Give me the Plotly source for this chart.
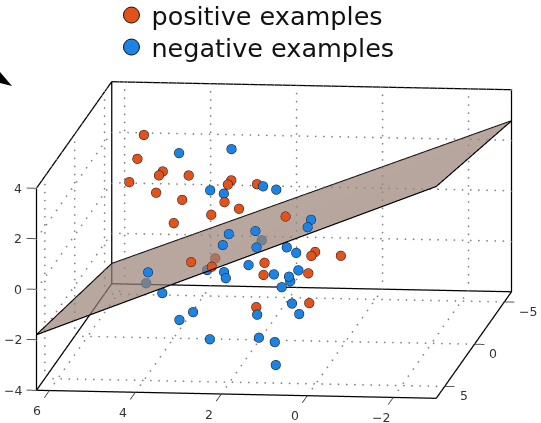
import plotly.graph_objects as go

# positive examples
pos_x = [5.11, 5.40, 4.67, 4.48, 3.65, 5.31, 4.27, 4.08, 2.80, 2.60, 2.34, 2.54, 2.48, 2.71, 3.72, 2.90, 2.28, 1.47, 1.77, 1.94, 3.31, 0.98, 0.71, 0.52, 0.25, 0.73, 0.43]
pos_y = [-3, -4, -3, -1, 0, -2, 1, -2, -1, 1, -2, 2, 0, 3, 2, 5, 6, 3, 1, 1, -2, 3, 0, 2, -1, 1, 3]
pos_z = [3.01, 1.72, 1.58, 2.10, 2.46, 1.47, 2.09, 0.81, 1.96, 2.47, 1.49, 2.11, 1.18, 1.94, 1.24, 0.73, 0.90, 0.08, -1.08, -2.36, -1.48, 1.93, -0.47, 0.05, -0.94, -0.98, -1.48]

# negative examples
neg_x = [4.43, 3.35, 3.29, 3.25, 2.06, 2.17, 2.44, 1.82, 2.44, 1.24, 2.23, 1.98, 4.04, 4.92, 3.39, 3.50, 2.55, 2.37, 3.41, 3.45, 1.78, 2.88, 1.60, 0.11, 0.05, 1.23, 1.15, 1.39, 1.10, 1.04, 1.15, 1.07, 0.97, 1.08, 1.37, 1.07]
neg_y = [-4, -5, -1, -3, -1, -4, 2, 2, 3, 6, -2, 2, 4, -2, 6.3, -2, 2, 3, 1, 3, 2, 2, 3, 5, 6, 1, 0, 2, 0, 2, 1, 3, 2, 0, 2, 4]
neg_z = [1.98, 1.84, 1.55, 0.75, 1.75, 0.61, 0.85, 0.99, 0.75, 1.70, -0.73, -0.36, -0.05, -2.52, -0.08, -1.95, -0.66, -0.56, -2.61, -2.25, -2.32, -3.33, -2.89, 2.50, 2.54, 0.03, -0.52, -0.71, -1.21, -0.79, -1.31, -0.87, -1.85, -2.94, -3.39, -3.62]

# separating plane corners
plane_x = [6.3, 6.3, -3.0, -3.0]
plane_y = [6.4, -6.2, -6.2, 6.4]
plane_z = [-1.8, -3.2, 2.77, 4.39]

# visible box, and axis ranges with room for the tick marks and plane corner outside it
box_x = [-3.0, 6.3]
box_y = [-6.2, 6.4]
box_z = [-4, 4]
x_range = [-3.3, 6.6]
y_range = [-7.2, 7.4]
z_range = [-4.45, 4.45]
x_ticks = [-2, 0, 2, 4, 6]
y_ticks = [-5, 0, 5]
z_ticks = [-4, -2, 0, 2, 4]

ORANGE = "#E4521C"
BLUE = "#1C82E4"

fig = go.Figure()
x0, x1 = box_x; y0, y1 = box_y; z0, z1 = box_z

def label(t):
    return str(t).replace("-", "\u2212")

# dotted grid on the floor and the two back walls
dx, dy, dz = [], [], []
def dots(a, b):
    # screen length of a segment decides how many dots it carries
    length = ((abs(a[0]-b[0])*43)**2 + (abs(a[1]-b[1])*10)**2 + (abs(a[2]-b[2])*25)**2)**0.5
    n = max(int(length / 8), 1)
    for k in range(n + 1):
        f = k / n
        dx.append(a[0] + (b[0]-a[0])*f); dy.append(a[1] + (b[1]-a[1])*f); dz.append(a[2] + (b[2]-a[2])*f)
for t in x_ticks:
    dots((t, y0, z0), (t, y1, z0))
    dots((t, y0, z0), (t, y0, z1))
for t in y_ticks:
    dots((x0, t, z0), (x1, t, z0))
    dots((x1, t, z0), (x1, t, z1))
for t in z_ticks[1:]:
    dots((x0, y0, t), (x1, y0, t))
    dots((x1, y0, t), (x1, y1, t))
fig.add_trace(go.Scatter3d(x=dx, y=dy, z=dz, mode="markers", showlegend=False, hoverinfo="skip",
                           marker=dict(color="#808080", size=1.0, line=dict(width=0))))

gx, gy, gz = [], [], []
def seg(a, b):
    gx.extend([a[0], b[0], None]); gy.extend([a[1], b[1], None]); gz.extend([a[2], b[2], None])

# box edges
seg((x1, y1, z0), (x0, y1, z0))
seg((x0, y1, z0), (x0, y0, z0))
seg((x0, y0, z0), (x1, y0, z0))
seg((x1, y0, z0), (x1, y1, z0))
seg((x1, y1, z0), (x1, y1, z1))
seg((x1, y1, z1), (x1, y0, z1))
seg((x1, y0, z1), (x0, y0, z1))
seg((x1, y0, z0), (x1, y0, z1))
seg((x0, y0, z0), (x0, y0, z1))
fig.add_trace(go.Scatter3d(x=gx, y=gy, z=gz, mode="lines", showlegend=False, hoverinfo="skip",
                           line=dict(color="black", width=2.5)))

# tick marks and their labels
gx, gy, gz = [], [], []
notes = []
font = dict(family="DejaVu Sans", size=12.5, color="#333333")
for t in x_ticks:
    seg((t, y1, z0), (t, y1 + 0.85, z0))
    notes.append(dict(x=t, y=y1 + 0.85, z=z0, text=label(t), showarrow=False, xshift=-7, yshift=-13, font=font))
for t in y_ticks:
    seg((x0, t, z0), (x0 - 0.23, t, z0))
    notes.append(dict(x=x0 - 0.23, y=t, z=z0, text=label(t), showarrow=False, xanchor="left", xshift=3, yshift=-9, font=font))
for t in z_ticks:
    seg((x1, y1, t), (x1 + 0.23, y1, t))
    notes.append(dict(x=x1 + 0.23, y=y1, z=t, text=label(t), showarrow=False, xanchor="right", xshift=-3, font=font))
fig.add_trace(go.Scatter3d(x=gx, y=gy, z=gz, mode="lines", showlegend=False, hoverinfo="skip",
                           line=dict(color="#222222", width=1.5)))

mk = lambda c, s, w: dict(color=c, size=s, opacity=1, line=dict(color="#111111", width=w))
fig.add_trace(go.Scatter3d(x=pos_x, y=pos_y, z=pos_z, mode="markers", marker=mk(ORANGE, 5.6, 1.5), showlegend=False))
fig.add_trace(go.Scatter3d(x=neg_x, y=neg_y, z=neg_z, mode="markers", marker=mk(BLUE, 5.6, 1.5), showlegend=False))

# legend entries
fig.add_trace(go.Scatter3d(x=[None], y=[None], z=[None], mode="markers", marker=mk(ORANGE, 17, 1), name="positive examples"))
fig.add_trace(go.Scatter3d(x=[None], y=[None], z=[None], mode="markers", marker=mk(BLUE, 17, 1), name="negative examples", legend="legend2"))

# plane face, pulled in a hair so that its outline does not fight with it
cx, cy, cz = [sum(v) / 4 for v in (plane_x, plane_y, plane_z)]
inset = lambda vals, c: [c + (v - c) * 0.996 for v in vals]
fig.add_trace(go.Mesh3d(x=inset(plane_x, cx), y=inset(plane_y, cy), z=inset(plane_z, cz),
                        i=[0, 0], j=[1, 2], k=[2, 3],
                        color="rgb(153,128,116)", opacity=0.7, flatshading=True, showscale=False,
                        hoverinfo="skip",
                        lighting=dict(ambient=1, diffuse=0, specular=0, roughness=1, fresnel=0)))
fig.add_trace(go.Scatter3d(x=plane_x + plane_x[:1], y=plane_y + plane_y[:1], z=plane_z + plane_z[:1],
                           mode="lines", showlegend=False, hoverinfo="skip",
                           line=dict(color="black", width=2.5)))

axis = dict(showgrid=False, zeroline=False, showbackground=False, showline=False, showspikes=False,
            ticks="", showticklabels=False, title="")
leg = dict(x=0.206, xanchor="left", yanchor="top", bgcolor="rgba(0,0,0,0)", borderwidth=0,
           font=dict(size=25.5, color="#111111"), itemwidth=30)
fig.update_layout(
    width=541, height=423,
    margin=dict(l=0, r=0, t=0, b=0, autoexpand=False),
    paper_bgcolor="white",
    font=dict(family="DejaVu Sans"),
    legend=dict(leg, y=1.019),
    legend2=dict(leg, y=1.019 - 32 / 423),
    scene=dict(
        domain=dict(x=[0.013, 1], y=[0, 0.865]),
        xaxis=dict(axis, range=x_range),
        yaxis=dict(axis, range=y_range),
        zaxis=dict(axis, range=z_range),
        aspectmode="manual",
        aspectratio=dict(x=2.342, y=4.032, z=1.246),
        camera=dict(projection=dict(type="orthographic"), up=dict(x=0, y=0, z=1),
                    center=dict(x=0, y=0, z=0),
                    eye=dict(x=-0.233, y=1.958, z=0.337)),
        annotations=notes,
    ),
    shapes=[dict(type="path", xref="paper", yref="paper",
                 path="M 0 0.83 L 0.0222 0.7967 L 0 0.8038 Z", fillcolor="black", line=dict(width=0))],
)
fig.write_html("out.html", config={"displayModeBar": False}, post_script="document.body.style.margin='0px';")
